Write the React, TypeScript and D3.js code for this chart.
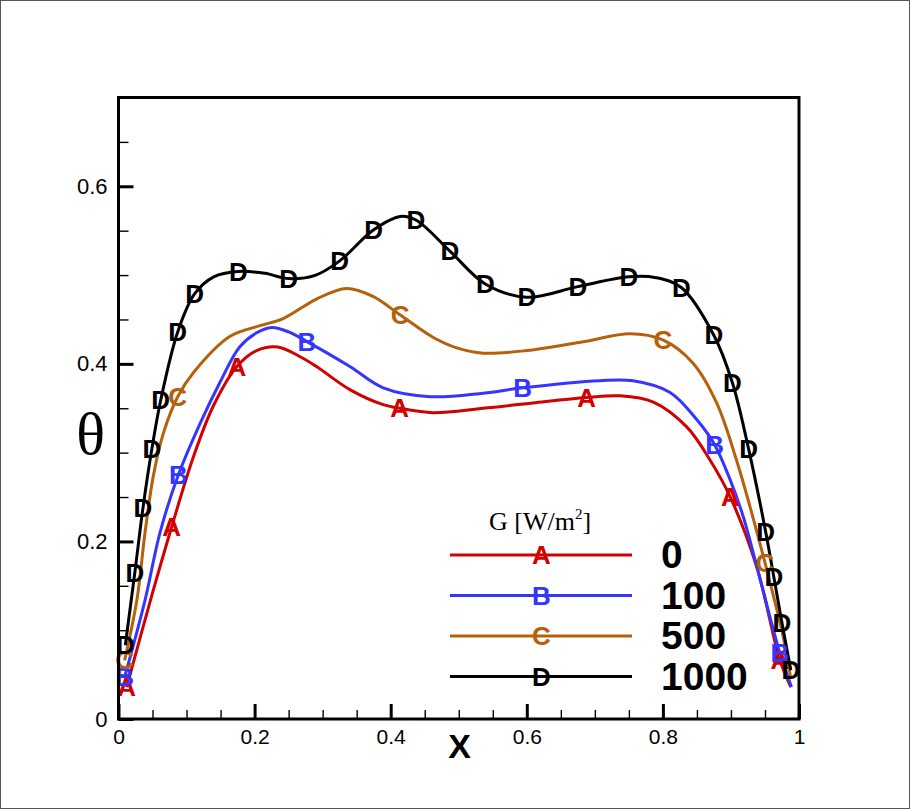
import { useEffect, useRef } from 'react'
import * as d3 from 'd3'

// series A (G = 0)
const xA = [0.012, 0.05, 0.078, 0.11, 0.139, 0.174, 0.203, 0.234, 0.267, 0.291, 0.34, 0.389, 0.413, 0.462, 0.536, 0.609, 0.688, 0.737, 0.786, 0.835, 0.869, 0.899, 0.938, 0.972, 0.988]
const yA = [0.036, 0.142, 0.216, 0.295, 0.352, 0.397, 0.415, 0.419, 0.408, 0.397, 0.371, 0.354, 0.35, 0.345, 0.35, 0.356, 0.362, 0.364, 0.357, 0.329, 0.292, 0.25, 0.171, 0.066, 0.036]
const markA = [0, 2, 5, 12, 16, 21, 23]

// series B (G = 100)
const xB = [0.009, 0.039, 0.061, 0.088, 0.12, 0.149, 0.178, 0.203, 0.225, 0.25, 0.277, 0.34, 0.389, 0.458, 0.536, 0.594, 0.707, 0.756, 0.81, 0.85, 0.876, 0.899, 0.918, 0.943, 0.972, 0.989]
const yB = [0.047, 0.134, 0.21, 0.275, 0.333, 0.379, 0.419, 0.435, 0.441, 0.436, 0.425, 0.397, 0.373, 0.363, 0.367, 0.373, 0.381, 0.381, 0.368, 0.337, 0.309, 0.269, 0.228, 0.157, 0.074, 0.036]
const markB = [0, 3, 10, 15, 20, 24]

// series C (G = 500)
const xC = [0.009, 0.027, 0.039, 0.051, 0.066, 0.087, 0.11, 0.164, 0.208, 0.242, 0.291, 0.335, 0.374, 0.414, 0.462, 0.497, 0.536, 0.6, 0.683, 0.752, 0.8, 0.844, 0.879, 0.908, 0.932, 0.95, 0.977, 0.988]
const yC = [0.066, 0.134, 0.21, 0.273, 0.322, 0.363, 0.39, 0.431, 0.443, 0.451, 0.473, 0.485, 0.476, 0.455, 0.43, 0.418, 0.412, 0.415, 0.425, 0.434, 0.427, 0.401, 0.356, 0.292, 0.228, 0.176, 0.092, 0.045]
const markC = [0, 5, 13, 20, 25]

// series D (G = 1000)
const xD = [0.01, 0.024, 0.036, 0.049, 0.062, 0.087, 0.112, 0.14, 0.176, 0.215, 0.25, 0.29, 0.325, 0.375, 0.414, 0.437, 0.487, 0.539, 0.6, 0.675, 0.75, 0.79, 0.827, 0.875, 0.902, 0.926, 0.951, 0.963, 0.975, 0.988]
const yD = [0.083, 0.165, 0.238, 0.304, 0.359, 0.436, 0.479, 0.498, 0.504, 0.502, 0.496, 0.5, 0.516, 0.551, 0.566, 0.562, 0.527, 0.49, 0.475, 0.487, 0.498, 0.497, 0.486, 0.432, 0.379, 0.304, 0.211, 0.16, 0.108, 0.055]
const markD = [0, 1, 2, 3, 4, 5, 6, 8, 10, 12, 13, 15, 16, 17, 18, 19, 20, 22, 23, 24, 25, 26, 27, 28, 29]

const xTicks = [0, 0.2, 0.4, 0.6, 0.8, 1]
const yTicks = [0, 0.2, 0.4, 0.6]
const legendTitle = 'G [W/m'
const legendLabels = ['0', '100', '500', '1000']

const series = [
  { letter: 'A', label: legendLabels[0], xs: xA, ys: yA, marks: markA, color: '#d20000' },
  { letter: 'B', label: legendLabels[1], xs: xB, ys: yB, marks: markB, color: '#3535ff' },
  { letter: 'C', label: legendLabels[2], xs: xC, ys: yC, marks: markC, color: '#b5600b' },
  { letter: 'D', label: legendLabels[3], xs: xD, ys: yD, marks: markD, color: '#000000' },
]

const W = 910
const H = 809
const SANS = '"Liberation Sans", Arial, Helvetica, sans-serif'
const SERIF = '"Liberation Serif", "Times New Roman", serif'

export default function App() {
  const ref = useRef<SVGSVGElement>(null)

  useEffect(() => {
    if (!ref.current) return
    const svg = d3.select(ref.current)
    svg.selectAll('*').remove()

    const left = 118.5
    const right = 799
    const top = 97.5
    const bottom = 719

    const x = d3.scaleLinear().domain([0, 1]).range([left, right])
    const y = d3.scaleLinear().domain([0, 0.7]).range([bottom, top])

    svg.append('rect').attr('x', 0.5).attr('y', 0.5).attr('width', W - 1).attr('height', H - 1)
      .attr('fill', '#fff').attr('stroke', '#555').attr('stroke-width', 1)

    // minor ticks
    const minorX = d3.range(0, 1.0001, 0.05).filter(v => Math.abs(v * 5 - Math.round(v * 5)) > 1e-6)
    const minorY = d3.range(0, 0.7001, 0.05).filter(v => Math.abs(v * 5 - Math.round(v * 5)) > 1e-6 && v < 0.69)

    svg.append('g').attr('transform', `translate(0,${bottom})`)
      .call(d3.axisBottom(x).tickValues(minorX).tickSize(-9).tickFormat(() => ''))
      .call(g => g.select('.domain').remove())
      .selectAll('line').attr('stroke', '#000').attr('stroke-width', 1.4)
    svg.append('g').attr('transform', `translate(${left},0)`)
      .call(d3.axisLeft(y).tickValues(minorY).tickSize(-10).tickFormat(() => ''))
      .call(g => g.select('.domain').remove())
      .selectAll('line').attr('stroke', '#000').attr('stroke-width', 1.4)

    // major ticks + labels
    const gx = svg.append('g').attr('transform', `translate(0,${bottom})`)
      .call(d3.axisBottom(x).tickValues(xTicks).tickSize(-15).tickPadding(10).tickFormat(d3.format('')))
    gx.select('.domain').remove()
    gx.selectAll('line').attr('stroke', '#000').attr('stroke-width', 3)
    gx.selectAll('text').attr('fill', '#000').style('font-family', SANS).style('font-size', '21px')

    const gy = svg.append('g').attr('transform', `translate(${left},0)`)
      .call(d3.axisLeft(y).tickValues(yTicks).tickSize(-15).tickPadding(11).tickFormat(d3.format('')))
    gy.select('.domain').remove()
    gy.selectAll('line').attr('stroke', '#000').attr('stroke-width', 3)
    gy.selectAll('text').attr('fill', '#000').style('font-family', SANS).style('font-size', '22px')

    // curves
    const line = d3.line<[number, number]>()
      .x(d => x(d[0])).y(d => y(d[1]))
      .curve(d3.curveCatmullRom.alpha(0.5))

    series.forEach(s => {
      const pts = s.xs.map((v, i) => [v, s.ys[i]] as [number, number])
      svg.append('path').attr('d', line(pts) || '')
        .attr('fill', 'none').attr('stroke', s.color).attr('stroke-width', 3)
    })
    series.forEach(s => {
      s.marks.forEach(i => {
        svg.append('text')
          .attr('x', x(s.xs[i])).attr('y', y(s.ys[i]))
          .attr('text-anchor', 'middle').attr('dominant-baseline', 'central')
          .attr('fill', s.color)
          .style('font-family', SANS).style('font-weight', 'bold').style('font-size', '26px')
          .text(s.letter)
      })
    })

    // frame
    svg.append('rect').attr('x', left).attr('y', top).attr('width', right - left).attr('height', bottom - top)
      .attr('fill', 'none').attr('stroke', '#000').attr('stroke-width', 3)

    // axis titles
    svg.append('text').attr('x', 459.5).attr('y', 758).attr('text-anchor', 'middle')
      .style('font-family', SANS).style('font-weight', 'bold').style('font-size', '34px').text('X')
    svg.append('text').attr('x', 90.5).attr('y', 454).attr('text-anchor', 'middle')
      .style('font-family', SERIF).style('font-size', '60px').text('θ')

    // legend
    const title = svg.append('text').attr('x', 540).attr('y', 530).attr('text-anchor', 'middle')
      .style('font-family', SERIF).style('font-size', '26px').attr('fill', '#000')
    title.append('tspan').text(legendTitle)
    title.append('tspan').attr('dy', -11).style('font-size', '15px').text('2')
    title.append('tspan').attr('dy', 11).text(']')

    const rowY = d3.scaleLinear().domain([0, 3]).range([555, 676.5])
    series.forEach((s, i) => {
      const ry = rowY(i)
      svg.append('line').attr('x1', 450).attr('x2', 632).attr('y1', ry).attr('y2', ry)
        .attr('stroke', s.color).attr('stroke-width', 3)
      svg.append('text').attr('x', 541.5).attr('y', ry)
        .attr('text-anchor', 'middle').attr('dominant-baseline', 'central').attr('fill', s.color)
        .style('font-family', SANS).style('font-weight', 'bold').style('font-size', '26px')
        .text(s.letter)
      svg.append('text').attr('x', 661).attr('y', ry + 13).attr('fill', '#000')
        .style('font-family', SANS).style('font-weight', 'bold').style('font-size', '39px')
        .text(s.label)
    })
  }, [])

  return (
    <svg ref={ref} width={W} height={H}
      style={{ position: 'absolute', left: 0, top: 0, background: '#fff' }} />
  )
}
